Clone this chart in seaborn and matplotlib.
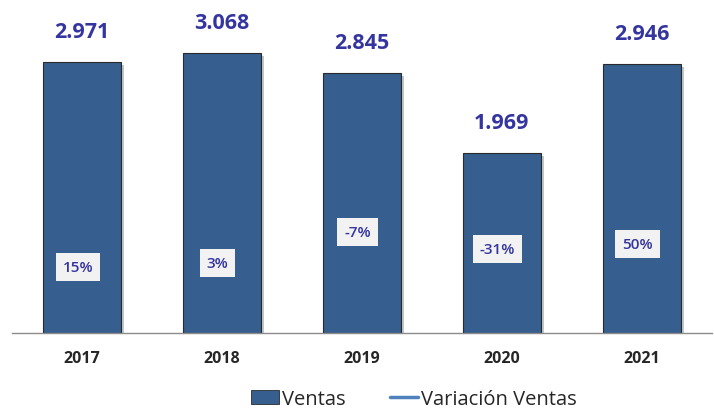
import pandas as pd
import matplotlib
matplotlib.use("Agg")
import matplotlib.pyplot as plt
import matplotlib.patheffects as pe
from matplotlib.patches import Patch
from matplotlib.lines import Line2D
import seaborn as sns

# Data
years = ['2017', '2018', '2019', '2020', '2021']
ventas = [2971, 3068, 2845, 1969, 2946]
variacion = ['15%', '3%', '-7%', '-31%', '50%']

# where the % boxes sit inside the bars (in sales units, as placed in the original)
pct_label_pos = [724, 768, 1107, 921, 976]

df = pd.DataFrame({'Año': years, 'Ventas': ventas})

bar_color = '#365E8F'
text_color = '#3535A0'

sns.set_style('white')
plt.rcParams['font.family'] = ['Open Sans', 'DejaVu Sans']

fig = plt.figure(figsize=(7.14, 4.10), dpi=100)
ax = fig.add_axes([0.0168, 0.185, 0.980, 0.802])

sns.barplot(data=df, x='Año', y='Ventas', color=bar_color, width=0.56,
            edgecolor='#2a2a2a', linewidth=0.8, saturation=1, ax=ax)

for bar in ax.patches:
    bar.set_path_effects([pe.SimplePatchShadow(offset=(2, -2), alpha=0.25),
                          pe.Normal()])

# value labels above bars
for bar, v in zip(ax.patches, ventas):
    ax.annotate(f'{v/1000:.3f}', (bar.get_x() + bar.get_width() / 2, bar.get_height()),
                xytext=(0, 22), textcoords='offset points', ha='center', va='center',
                fontsize=15.5, fontweight='bold', color=text_color)

# variation labels inside the bars
for bar, txt, ypos in zip(ax.patches, variacion, pct_label_pos):
    ax.text(bar.get_x() + bar.get_width() / 2 - 0.03, ypos, txt, ha='center', va='center',
            fontsize=11, fontweight='semibold', color=text_color,
            bbox=dict(boxstyle='square,pad=0.45', facecolor='#F2F2F2', edgecolor='none'))

ax.set_ylim(0, 3600)
ax.set_xlim(-0.5, 4.5)
ax.set_xlabel('')
ax.set_ylabel('')
ax.set_yticks([])
for s in ['top', 'right', 'left']:
    ax.spines[s].set_visible(False)
ax.spines['bottom'].set_color('#8c8c8c')
ax.spines['bottom'].set_linewidth(1)

ax.set_xticks([-0.5, 0.5, 1.5, 2.5, 3.5, 4.5], minor=True)
ax.tick_params(axis='x', which='minor', length=6, color='#8c8c8c', width=1, direction='out')
ax.tick_params(axis='x', which='major', length=0, pad=12, labelsize=11.5)
for lbl in ax.get_xticklabels():
    lbl.set_fontweight('bold')

handles = [Patch(facecolor=bar_color, edgecolor='#2a2a2a', linewidth=0.6),
           Line2D([0], [0], color='#4F81BD', linewidth=2.5)]
fig.legend(handles, ['Ventas', 'Variación Ventas'], loc='center',
           bbox_to_anchor=(0.58, 0.024), ncol=2, frameon=False, fontsize=14.5,
           handlelength=1.4, handletextpad=0.15, columnspacing=2.2)

fig.savefig('out.png', dpi=100)
